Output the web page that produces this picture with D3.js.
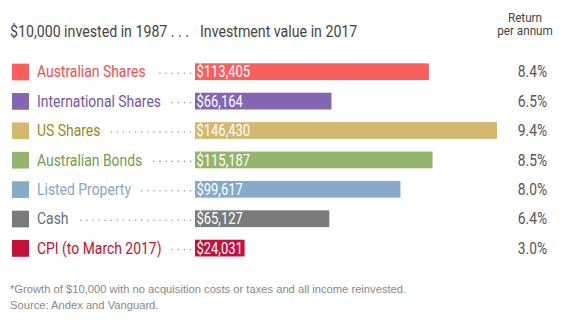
<!DOCTYPE html>
<html><head><meta charset="utf-8">
<script src="https://cdn.jsdelivr.net/npm/d3@7"></script>
<style>
body{margin:0;background:#fff;}
svg text{font-family:Roboto,"Liberation Sans",sans-serif;}
</style>
</head><body>
<svg id="chart" width="565" height="324"></svg>
<script>
const categories = ["Australian Shares","International Shares","US Shares","Australian Bonds","Listed Property","Cash","CPI (to March 2017)"];
const values = [113405, 66164, 146430, 115187, 99617, 65127, 24031];
const returns = ["8.4%","6.5%","9.4%","8.5%","8.0%","6.4%","3.0%"];
const headerLeft = "$10,000 invested in 1987 . . .";
const headerRight = "Investment value in 2017";
const barColors = ["#F85F5E","#8466B3","#D4B86E","#93B66C","#87AAC8","#7B7B7E","#C6103A"];
const labelColors = ["#F0504F","#7457A9","#9C8720","#6FA046","#86A8C6","#6E6E70","#C8102E"];

const svg = d3.select("#chart");
const y = d3.scaleBand().domain(categories).range([57, 262.8]).paddingInner(0.43).paddingOuter(0.215);
const x = d3.scaleLinear().domain([0, 146430]).range([195, 497]);

// horizontal condensing to mimic a condensed typeface
function condense(sel, f){
  sel.each(function(){
    const w = this.getComputedTextLength();
    d3.select(this).attr("textLength", w*f).attr("lengthAdjust","spacingAndGlyphs");
  });
  return sel;
}

// header as one text element, condensed by a horizontal scale
const HS = 0.86;
const head = svg.append("text").attr("transform",`translate(10,37) scale(${HS},1)`).attr("font-size",16.5).attr("fill","#444");
head.append("tspan").attr("x",0).text(headerLeft);
head.append("tspan").attr("x",(200-10)/HS).text(headerRight);

condense(svg.append("text").attr("x",525).attr("y",21.5).attr("text-anchor","middle").attr("font-size",13).attr("fill","#444").text("Return"), 0.9);
condense(svg.append("text").attr("x",525).attr("y",35).attr("text-anchor","middle").attr("font-size",13).attr("fill","#444").text("per annum"), 0.9);

const rows = svg.selectAll("g.row").data(categories).join("g").attr("class","row");

rows.append("rect").attr("x",12).attr("y",d=>y(d)+0.3).attr("width",17).attr("height",y.bandwidth())
  .attr("fill",(d,i)=>barColors[i]);

const labels = rows.append("text").attr("x",37).attr("y",d=>y(d)+y.bandwidth()/2+5.6)
  .attr("font-size",16).attr("fill",(d,i)=>labelColors[i]).text(d=>d);
condense(labels, 0.87);

// dotted leaders
rows.each(function(d,i){
  const g = d3.select(this);
  const tw = +labels.nodes()[i].getAttribute("textLength");
  const start = 37 + tw + 9;
  const dots = [];
  for(let xx = 190.5; xx >= start; xx -= 6.1) dots.push(xx);
  g.selectAll("circle").data(dots).join("circle").attr("cx",v=>v).attr("cy",y(d)+y.bandwidth()/2+1.5)
    .attr("r",0.8).attr("fill","#9a9a9a");
});

rows.append("rect").attr("x",x(0)).attr("y",d=>y(d)).attr("width",(d,i)=>x(values[i])-x(0)).attr("height",y.bandwidth())
  .attr("fill",(d,i)=>barColors[i]);

condense(rows.append("text").attr("x",x(0)+1.5).attr("y",d=>y(d)+y.bandwidth()/2+5.6).attr("font-size",16).attr("fill","#fff")
  .text((d,i)=>"$"+d3.format(",")(values[i])), 0.81);

condense(rows.append("text").attr("x",547).attr("y",d=>y(d)+y.bandwidth()/2+5.6).attr("text-anchor","end").attr("font-size",16).attr("fill","#555")
  .text((d,i)=>returns[i]), 0.86);

svg.append("text").attr("x",10).attr("y",293).attr("font-size",11.2).attr("fill","#888").style("font-family","'Liberation Sans',sans-serif")
  .text("*Growth of $10,000 with no acquisition costs or taxes and all income reinvested.");
svg.append("text").attr("x",10).attr("y",309).attr("font-size",11.2).attr("fill","#888").style("font-family","'Liberation Sans',sans-serif")
  .text("Source: Andex and Vanguard.");
</script>
</body></html>
